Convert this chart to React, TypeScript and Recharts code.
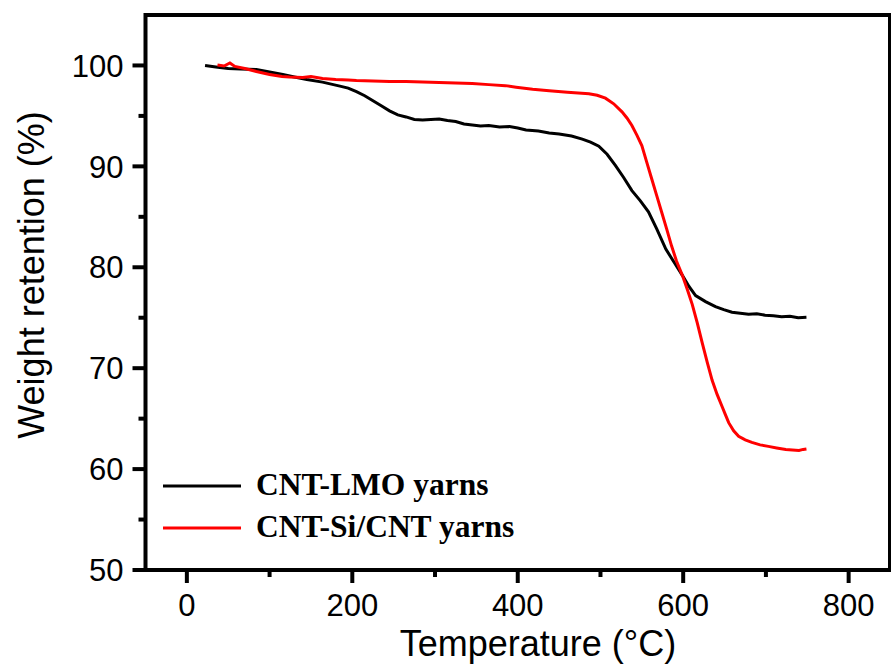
import { LineChart, Line, XAxis, YAxis, ReferenceArea, Legend } from 'recharts'

const lmoTemp = [22, 35, 50, 65, 84, 100, 116, 130, 145, 164, 185, 195, 205, 215, 225, 235, 245, 255, 265, 275, 285, 295, 305, 315, 325, 335, 345, 355, 365, 378, 390, 400, 410, 425, 438, 450, 465, 478, 488, 498, 508, 518, 528, 538, 548, 558, 568, 579, 589, 599, 607, 615, 627, 639, 649, 659, 669, 679, 689, 699, 709, 719, 729, 739, 749]
const lmoWeight = [100.0, 99.85, 99.7, 99.65, 99.6, 99.35, 99.1, 98.85, 98.6, 98.35, 97.95, 97.75, 97.4, 97.0, 96.5, 96.0, 95.5, 95.1, 94.9, 94.65, 94.6, 94.65, 94.7, 94.55, 94.45, 94.2, 94.1, 94.0, 94.05, 93.9, 93.95, 93.8, 93.6, 93.5, 93.3, 93.2, 93.0, 92.7, 92.4, 92.0, 91.2, 90.1, 88.9, 87.6, 86.6, 85.5, 83.8, 81.8, 80.5, 79.2, 78.1, 77.2, 76.6, 76.1, 75.8, 75.55, 75.45, 75.35, 75.4, 75.25, 75.2, 75.1, 75.15, 75.0, 75.05]

const siTemp = [37, 45, 52, 58, 70, 84, 100, 115, 124, 140, 150, 164, 180, 195, 205, 225, 245, 265, 285, 305, 325, 345, 365, 385, 398, 418, 438, 460, 486, 496, 506, 516, 526, 532, 538, 544, 550, 556, 562, 568, 574, 580, 586, 592, 599, 605, 611, 617, 623, 629, 635, 641, 647, 651, 655, 661, 667, 675, 683, 693, 703, 713, 724, 732, 740, 745, 749]
const siWeight = [100.05, 99.95, 100.25, 99.9, 99.7, 99.4, 99.1, 98.9, 98.85, 98.8, 98.9, 98.7, 98.6, 98.55, 98.5, 98.45, 98.4, 98.4, 98.35, 98.3, 98.25, 98.2, 98.1, 98.0, 97.85, 97.65, 97.5, 97.35, 97.2, 97.05, 96.76, 96.2, 95.4, 94.8, 94.05, 93.1, 92.06, 90.4, 88.75, 87.1, 85.45, 83.8, 82.1, 80.6, 79.2, 77.8, 76.3, 74.5, 72.5, 70.6, 68.8, 67.4, 66.2, 65.4, 64.6, 63.8, 63.25, 62.9, 62.65, 62.4, 62.25, 62.1, 61.95, 61.9, 61.85, 61.95, 62.0]

const xTicks = [0, 100, 200, 300, 400, 500, 600, 700, 800]
const yTicks = [50, 55, 60, 65, 70, 75, 80, 85, 90, 95, 100]

const lmoData = lmoTemp.map((t, i) => ({ t, w: lmoWeight[i] }))
const siData = siTemp.map((t, i) => ({ t, w: siWeight[i] }))

const sans = '"Liberation Sans", Arial, sans-serif'

function XTick({ x, y, payload }: any) {
  const major = payload.value % 200 === 0
  return (
    <g>
      <line x1={x} x2={x} y1={y} y2={y + (major ? 13 : 7)} stroke="#000" strokeWidth={4} />
      {major && (
        <text x={x} y={y + 46} textAnchor="middle" fontFamily={sans} fontSize={31} fill="#000">
          {payload.value}
        </text>
      )}
    </g>
  )
}

function YTick({ x, y, payload }: any) {
  const major = payload.value % 10 === 0
  return (
    <g>
      <line x1={x} x2={x - (major ? 13 : 7)} y1={y} y2={y} stroke="#000" strokeWidth={4} />
      {major && (
        <text x={x - 22} y={y} dy="0.36em" textAnchor="end" fontFamily={sans} fontSize={31} fill="#000">
          {payload.value}
        </text>
      )}
    </g>
  )
}

function LegendBox({ payload }: any) {
  return (
    <svg width={420} height={84}>
      {(payload || []).map((p: any, i: number) => (
        <g key={i}>
          <line x1={0} x2={78} y1={20 + i * 42} y2={20 + i * 42} stroke={p.color} strokeWidth={3} />
          <text x={93} y={29 + i * 42} fontFamily='"Liberation Serif", "Times New Roman", serif' fontWeight="bold" fontSize={31.5} fill="#000">
            {p.value}
          </text>
        </g>
      ))}
    </svg>
  )
}

export default function App() {
  return (
    <div style={{ position: 'absolute', left: 0, top: 0, width: 891, height: 666, background: '#fff' }}>
      <LineChart width={891} height={666} margin={{ top: 15, right: 1, bottom: 0, left: 0 }}>
        <XAxis
          type="number"
          dataKey="t"
          domain={[-50, 850]}
          ticks={xTicks}
          interval={0}
          tick={<XTick />}
          tickLine={false}
          tickSize={0}
          tickMargin={0}
          height={96}
          axisLine={false}
          label={() => (
            <text x={538} y={656} textAnchor="middle" fontFamily={sans} fontSize={36} fill="#000">
              Temperature (°C)
            </text>
          )}
          allowDataOverflow
        />
        <YAxis
          type="number"
          domain={[50, 105]}
          ticks={yTicks}
          interval={0}
          tick={<YTick />}
          tickLine={false}
          tickSize={0}
          tickMargin={0}
          width={145.5}
          axisLine={false}
          label={() => (
            <text x={44} y={275} transform="rotate(-90, 44, 275)" textAnchor="middle" fontFamily={sans} fontSize={36} fill="#000">
              Weight retention (%)
            </text>
          )}
          allowDataOverflow
        />
        <ReferenceArea x1={-50} x2={850} y1={50} y2={105} fill="none" stroke="#000" strokeWidth={4} ifOverflow="visible" />
        <Line data={lmoData} dataKey="w" name="CNT-LMO yarns" type="linear" stroke="#000" strokeWidth={3} dot={false} isAnimationActive={false} />
        <Line data={siData} dataKey="w" name="CNT-Si/CNT yarns" type="linear" stroke="#ff0000" strokeWidth={3} dot={false} isAnimationActive={false} />
        <Legend
          layout="vertical"
          align="center"
          verticalAlign="middle"
          content={<LegendBox />}
          wrapperStyle={{ position: 'absolute', left: 163, top: 466, width: 420, height: 84 }}
        />
      </LineChart>
    </div>
  )
}
